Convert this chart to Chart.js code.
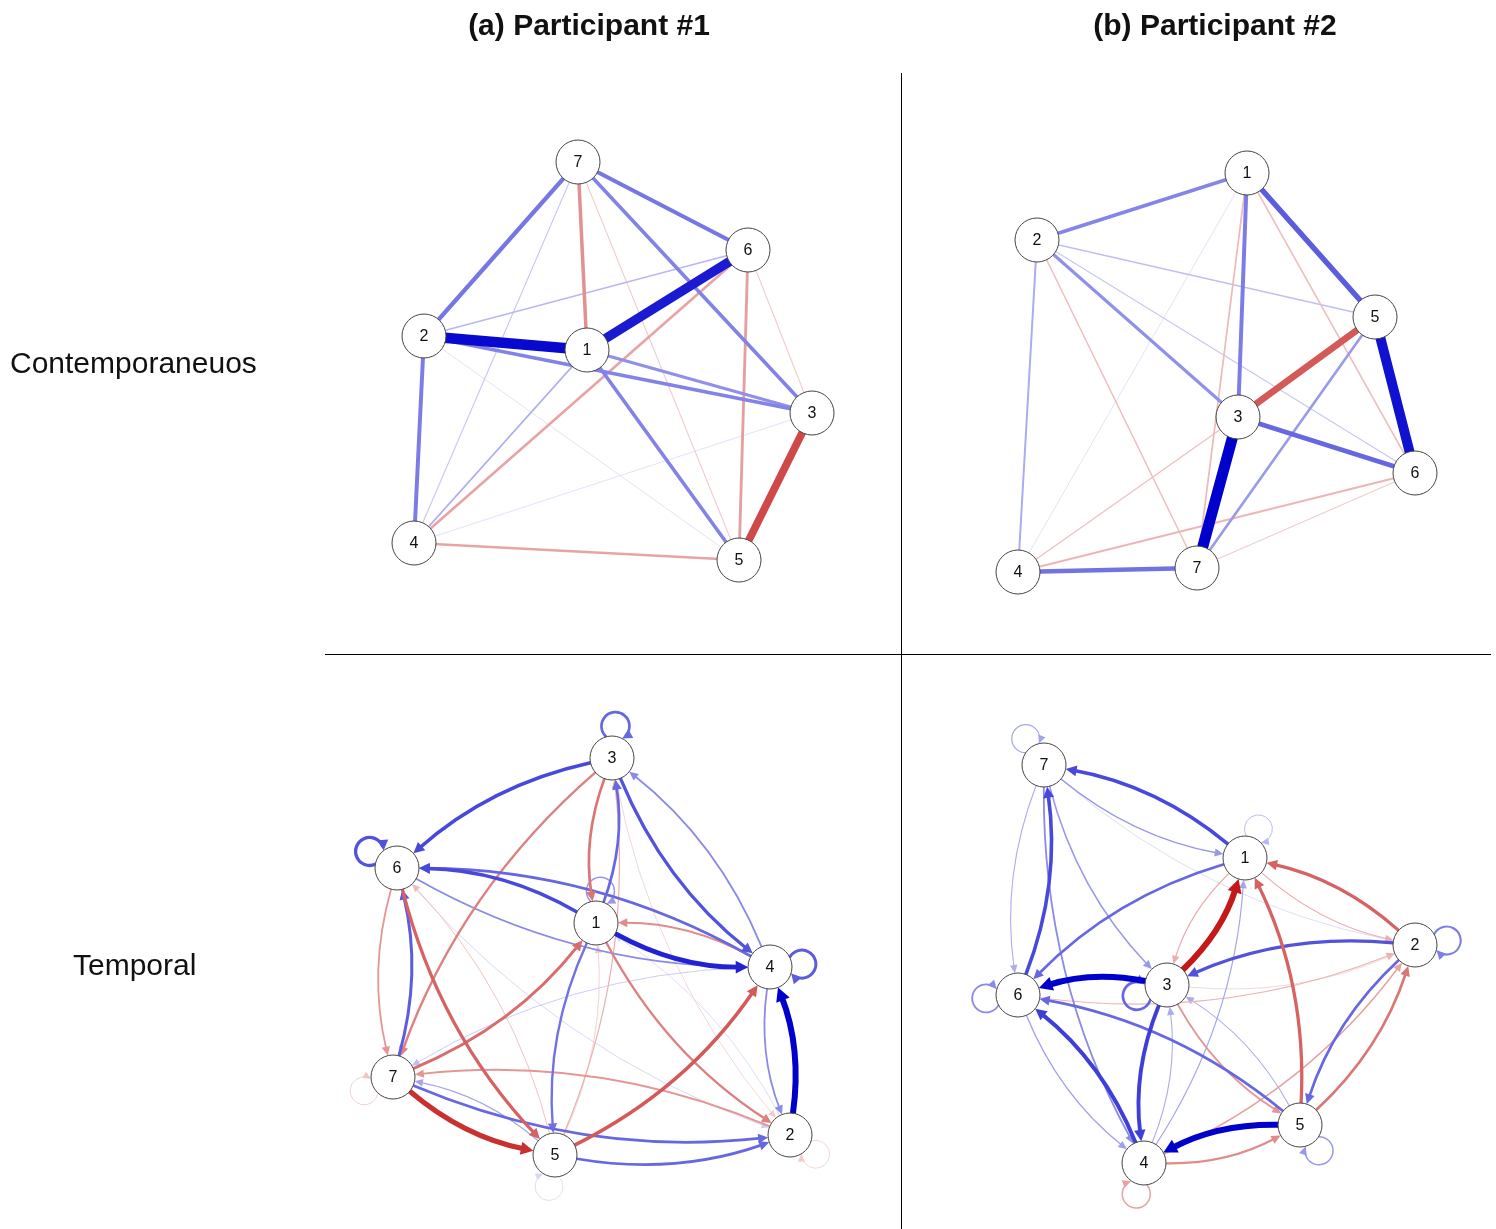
<!DOCTYPE html>
<html>
<head>
<meta charset="utf-8">
<script src="https://cdn.jsdelivr.net/npm/chart.js@4.4.1/dist/chart.umd.min.js"></script>
<style>
body { margin: 0; background: #fff; font-family: "Liberation Sans", Arial, sans-serif; }
#wrap { position: relative; width: 1496px; height: 1229px; }
#grafica { position: absolute; left: 0; top: 0; }
.titulo { position: absolute; top: 8px; font-weight: bold; font-size: 30px; transform: translateX(-50%); white-space: nowrap; color: #111; }
.fila { position: absolute; font-size: 30px; white-space: nowrap; color: #111; }
.vl { position: absolute; left: 901px; top: 73px; width: 1px; height: 1156px; background: #000; }
.hl { position: absolute; left: 325px; top: 654px; width: 1166px; height: 1px; background: #000; }
</style>
</head>
<body>
<div id="wrap">
  <canvas id="grafica" width="1496" height="1229"></canvas>
  <div class="titulo" style="left:589px">(a) Participant #1</div>
  <div class="titulo" style="left:1215px">(b) Participant #2</div>
  <div class="fila" style="left:10px; top:346px">Contemporaneuos</div>
  <div class="fila" style="left:73px; top:948px">Temporal</div>
  <div class="vl"></div>
  <div class="hl"></div>
</div>
<script>
// nodos 1..7
const etiquetasNodos = ['1', '2', '3', '4', '5', '6', '7'];

// posiciones de los nodos por panel (indice 0 = nodo 1)
const contA_x = [587, 424, 812, 414, 739, 748, 578];
const contA_y = [350, 336, 413, 543, 560, 250, 162];
const contB_x = [1247, 1037, 1238, 1018, 1375, 1415, 1197];
const contB_y = [173, 240, 417, 572, 317, 473, 568];
const tempA_x = [596, 790, 612, 770, 555, 397, 393];
const tempA_y = [923, 1135, 758, 967, 1155, 868, 1077];
const tempB_x = [1245, 1415, 1167, 1144, 1300, 1018, 1044];
const tempB_y = [858, 945, 985, 1163, 1125, 995, 765];

// aristas [desde, hasta, peso]  (peso > 0 azul, < 0 rojo)
const contA_aristas = [
    [2, 1, 0.95], [1, 6, 0.85], [3, 5, -0.7], [7, 2, 0.38], [7, 6, 0.38],
    [7, 3, 0.33], [2, 4, 0.36], [1, 5, 0.33], [2, 3, 0.33], [1, 3, 0.28],
    [7, 1, -0.32], [6, 5, -0.26], [6, 4, -0.24], [4, 5, -0.24], [6, 3, -0.1],
    [7, 5, -0.1], [7, 4, 0.1], [2, 6, 0.14], [1, 4, 0.17], [2, 5, 0.05], [4, 3, 0.05]
];
const contB_aristas = [
    [3, 7, 1.0], [5, 6, 0.9], [3, 5, -0.6], [1, 5, 0.5], [3, 6, 0.45],
    [4, 7, 0.4], [1, 3, 0.36], [1, 2, 0.32], [2, 3, 0.28], [5, 7, 0.24],
    [2, 4, 0.18], [2, 5, 0.12], [2, 6, 0.1], [1, 6, -0.14], [1, 7, -0.16],
    [2, 7, -0.14], [3, 4, -0.13], [4, 6, -0.17], [7, 6, -0.1], [1, 4, 0.05]
];
const tempA_aristas = [
    [3, 6, 0.6], [1, 6, 0.6], [4, 6, 0.45], [6, 4, 0.3], [1, 4, 0.8],
    [3, 4, 0.55], [4, 3, 0.3], [1, 3, 0.45], [3, 1, -0.45], [2, 4, 1.0],
    [4, 2, 0.3], [7, 5, -0.85], [5, 7, 0.2], [7, 2, 0.45], [5, 2, 0.45],
    [5, 4, -0.6], [6, 5, -0.55], [5, 6, -0.15], [7, 6, 0.5], [6, 7, -0.3],
    [7, 1, -0.5], [3, 7, -0.4], [1, 5, 0.4], [1, 2, -0.4], [4, 1, -0.35],
    [2, 7, -0.3], [4, 7, 0.12], [5, 3, -0.2], [5, 1, -0.12], [3, 2, -0.1],
    [6, 2, 0.08], [2, 1, 0.06],
    [3, 3, 0.45], [6, 6, 0.55], [4, 4, 0.5], [1, 1, 0.25], [7, 7, -0.12], [5, 5, 0.06], [2, 2, -0.1]
];
const tempB_aristas = [
    [3, 1, -1.0], [3, 6, 1.0], [5, 4, 1.0], [1, 7, 0.6], [6, 7, 0.6],
    [4, 6, 0.65], [3, 4, 0.65], [2, 3, 0.55], [2, 1, -0.55], [5, 1, -0.55],
    [1, 6, 0.45], [2, 5, 0.45], [5, 2, -0.45], [4, 5, -0.35], [5, 6, 0.45],
    [7, 4, 0.3], [6, 4, 0.22], [7, 6, 0.18], [7, 1, 0.25], [7, 3, 0.25],
    [4, 1, 0.2], [5, 3, 0.18], [3, 5, -0.3], [4, 2, -0.25], [1, 3, -0.2],
    [4, 3, 0.18], [6, 2, -0.18], [3, 2, -0.1], [1, 2, -0.2], [7, 2, 0.06],
    [7, 7, 0.2], [1, 1, 0.15], [2, 2, 0.35], [3, 3, 0.45], [6, 6, 0.3], [5, 5, 0.25], [4, 4, -0.25]
];

const paneles = [
    { x: contA_x, y: contA_y, aristas: contA_aristas, dirigido: false, anchoMax: 11 },
    { x: contB_x, y: contB_y, aristas: contB_aristas, dirigido: false, anchoMax: 11 },
    { x: tempA_x, y: tempA_y, aristas: tempA_aristas, dirigido: true, anchoMax: 6 },
    { x: tempB_x, y: tempB_y, aristas: tempB_aristas, dirigido: true, anchoMax: 6 }
];

const RADIO = 22;
const CURVA = 0.13;

function colorArista(w) {
    const f = Math.pow(Math.min(Math.abs(w), 1), 0.65);
    const base = w > 0 ? [0, 0, 205] : [195, 25, 25];
    const c = base.map(v => Math.round(255 + (v - 255) * f));
    return 'rgb(' + c.join(',') + ')';
}

function punta(ctx, x, y, ux, uy, lw, color) {
    const largo = 7 + lw * 1.1;
    const medio = 3 + lw * 0.7;
    ctx.fillStyle = color;
    ctx.beginPath();
    ctx.moveTo(x, y);
    ctx.lineTo(x - ux * largo - uy * medio, y - uy * largo + ux * medio);
    ctx.lineTo(x - ux * largo + uy * medio, y - uy * largo - ux * medio);
    ctx.closePath();
    ctx.fill();
}

const pluginAristas = {
    id: 'aristas',
    beforeDatasetsDraw(chart) {
        const ctx = chart.ctx;
        const sx = chart.scales.x, sy = chart.scales.y;
        ctx.save();
        ctx.lineCap = 'round';
        paneles.forEach(p => {
            const px = p.x.map(v => sx.getPixelForValue(v));
            const py = p.y.map(v => sy.getPixelForValue(v));
            const mx = px.reduce((a, b) => a + b, 0) / px.length;
            const my = py.reduce((a, b) => a + b, 0) / py.length;
            const ordenadas = p.aristas.slice().sort((a, b) => Math.abs(a[2]) - Math.abs(b[2]));
            ordenadas.forEach(([de, a, w]) => {
                const color = colorArista(w);
                const lw = Math.max(0.8, Math.abs(w) * p.anchoMax);
                const x1 = px[de - 1], y1 = py[de - 1], x2 = px[a - 1], y2 = py[a - 1];
                ctx.strokeStyle = color;
                ctx.lineWidth = lw;
                if (!p.dirigido) {
                    ctx.beginPath();
                    ctx.moveTo(x1, y1);
                    ctx.lineTo(x2, y2);
                    ctx.stroke();
                    return;
                }
                if (de === a) {
                    // lazo hacia afuera del centro del panel
                    let ux = x1 - mx, uy = y1 - my;
                    const n = Math.hypot(ux, uy) || 1;
                    ux /= n; uy /= n;
                    const d = RADIO + 10, r2 = 14;
                    const cx = x1 + ux * d, cy = y1 + uy * d;
                    const th = Math.acos((d * d + r2 * r2 - RADIO * RADIO) / (2 * d * r2));
                    const beta = Math.atan2(-uy, -ux);
                    const fin = beta - th + 2 * Math.PI;
                    const ex = cx + r2 * Math.cos(fin), ey = cy + r2 * Math.sin(fin);
                    const tx = -Math.sin(fin), ty = Math.cos(fin);
                    ctx.beginPath();
                    ctx.arc(cx, cy, r2, beta + th, fin - 0.35, false);
                    ctx.stroke();
                    punta(ctx, ex, ey, tx, ty, lw, color);
                    return;
                }
                const dx = x2 - x1, dy = y2 - y1;
                const cx = (x1 + x2) / 2 - CURVA * dy, cy = (y1 + y2) / 2 + CURVA * dx;
                const ax = cx - x1, ay = cy - y1;
                let n = Math.hypot(ax, ay);
                const sx0 = x1 + ax / n * RADIO, sy0 = y1 + ay / n * RADIO;
                let bx = x2 - cx, by = y2 - cy;
                n = Math.hypot(bx, by);
                bx /= n; by /= n;
                const ex = x2 - bx * RADIO, ey = y2 - by * RADIO;
                const largo = 7 + lw * 1.1;
                ctx.beginPath();
                ctx.moveTo(sx0, sy0);
                ctx.quadraticCurveTo(cx, cy, ex - bx * largo * 0.7, ey - by * largo * 0.7);
                ctx.stroke();
                punta(ctx, ex, ey, bx, by, lw, color);
            });
        });
        ctx.restore();
    },
    afterDatasetsDraw(chart) {
        const ctx = chart.ctx;
        const sx = chart.scales.x, sy = chart.scales.y;
        ctx.save();
        ctx.fillStyle = '#111';
        ctx.font = '16px "Liberation Sans", Arial, sans-serif';
        ctx.textAlign = 'center';
        ctx.textBaseline = 'middle';
        paneles.forEach(p => {
            p.x.forEach((v, i) => {
                ctx.fillText(etiquetasNodos[i], sx.getPixelForValue(v), sy.getPixelForValue(p.y[i]) + 1);
            });
        });
        ctx.restore();
    }
};

const $grafica = document.querySelector('#grafica');

new Chart($grafica, {
    type: 'scatter',
    data: {
        datasets: paneles.map(p => ({
            data: p.x.map((x, i) => ({ x: x, y: p.y[i] })),
            pointRadius: RADIO,
            pointHoverRadius: RADIO,
            backgroundColor: '#fff',
            borderColor: '#444',
            borderWidth: 1,
            clip: false
        }))
    },
    options: {
        responsive: false,
        animation: false,
        events: [],
        layout: { padding: 0, autoPadding: false },
        plugins: { legend: { display: false }, tooltip: { enabled: false } },
        scales: {
            x: { type: 'linear', display: false, min: 0, max: 1496 },
            y: { type: 'linear', display: false, min: 0, max: 1229, reverse: true }
        }
    },
    plugins: [pluginAristas]
});
</script>
</body>
</html>
